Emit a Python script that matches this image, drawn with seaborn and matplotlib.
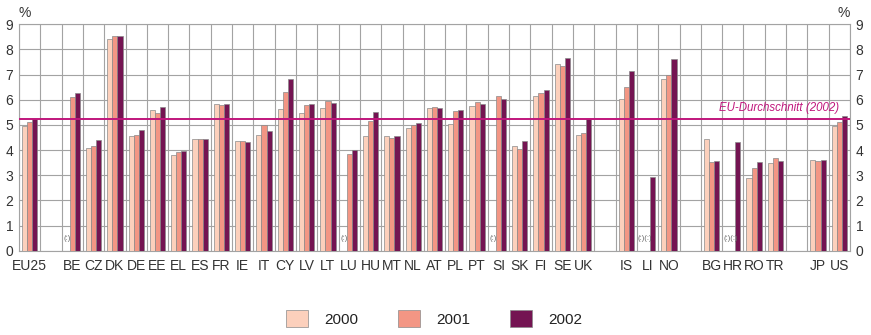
import numpy as np
import pandas as pd
import matplotlib
matplotlib.use("Agg")
import matplotlib.pyplot as plt
import seaborn as sns

# Country blocks (EU25 aggregate, member states, EFTA, candidates, others)
eu_total = ["EU25"]
members = ["BE", "CZ", "DK", "DE", "EE", "EL", "ES", "FR", "IE", "IT", "CY", "LV",
           "LT", "LU", "HU", "MT", "NL", "AT", "PL", "PT", "SI", "SK", "FI", "SE", "UK"]
efta = ["IS", "LI", "NO"]
candidates = ["BG", "HR", "RO", "TR"]
others = ["JP", "US"]

years = ["2000", "2001", "2002"]

# Values in % (None = not available)
v2000 = {
    "EU25": 4.96, "BE": None, "CZ": 4.07, "DK": 8.41, "DE": 4.56, "EE": 5.59, "EL": 3.79,
    "ES": 4.43, "FR": 5.83, "IE": 4.35, "IT": 4.59, "CY": 5.62, "LV": 5.46, "LT": 5.69,
    "LU": None, "HU": 4.56, "MT": 4.56, "NL": 4.89, "AT": 5.67, "PL": 5.03, "PT": 5.75,
    "SI": None, "SK": 4.15, "FI": 6.14, "SE": 7.42, "UK": 4.60,
    "IS": 6.02, "LI": None, "NO": 6.84,
    "BG": 4.43, "HR": None, "RO": 2.90, "TR": 3.47,
    "JP": 3.59, "US": 4.95,
}
v2001 = {
    "EU25": 5.10, "BE": 6.11, "CZ": 4.16, "DK": 8.53, "DE": 4.60, "EE": 5.49, "EL": 3.91,
    "ES": 4.43, "FR": 5.78, "IE": 4.35, "IT": 4.99, "CY": 6.31, "LV": 5.78, "LT": 5.94,
    "LU": 3.84, "HU": 5.17, "MT": 4.48, "NL": 4.99, "AT": 5.71, "PL": 5.57, "PT": 5.92,
    "SI": 6.14, "SK": 4.03, "FI": 6.26, "SE": 7.33, "UK": 4.69,
    "IS": 6.50, "LI": None, "NO": 7.00,
    "BG": 3.53, "HR": None, "RO": 3.28, "TR": 3.67,
    "JP": 3.57, "US": 5.10,
}
v2002 = {
    "EU25": 5.22, "BE": 6.27, "CZ": 4.40, "DK": 8.53, "DE": 4.79, "EE": 5.70, "EL": 3.98,
    "ES": 4.45, "FR": 5.82, "IE": 4.32, "IT": 4.75, "CY": 6.84, "LV": 5.82, "LT": 5.89,
    "LU": 4.00, "HU": 5.52, "MT": 4.55, "NL": 5.08, "AT": 5.67, "PL": 5.61, "PT": 5.83,
    "SI": 6.03, "SK": 4.35, "FI": 6.39, "SE": 7.67, "UK": 5.24,
    "IS": 7.13, "LI": 2.94, "NO": 7.63,
    "BG": 3.57, "HR": 4.32, "RO": 3.53, "TR": 3.55,
    "JP": 3.59, "US": 5.36,
}
eu_average_label = "EU-Durchschnitt (2002)"
eu_average = v2002["EU25"]

colors = ["#fcd0bc", "#f39684", "#741452"]
line_color = "#c0167c"
text_color = "#333333"
grid_color = "#a3a3a3"

# Category order with one empty slot between blocks
blocks = [eu_total, members, efta, candidates, others]
order = []
for i, blk in enumerate(blocks):
    if i > 0:
        order.append(" " * i)
    order.extend(blk)

rows = []
for yr, vals in zip(years, [v2000, v2001, v2002]):
    for c in order:
        v = vals.get(c)
        rows.append({"country": c, "year": yr, "value": np.nan if v is None else v})
df = pd.DataFrame(rows)

sns.set_theme(style="white")
plt.rcParams["font.family"] = ["Liberation Sans", "DejaVu Sans"]

fig = plt.figure(figsize=(8.71, 3.35), dpi=100)
ax = fig.add_axes([0.0218, 0.2517, 0.9541, 0.6758])

sns.barplot(data=df, x="country", y="value", hue="year", order=order,
            hue_order=years, palette=colors, saturation=1, width=0.72, gap=0,
            edgecolor="#8a8a8a", linewidth=0.5, ax=ax, legend=True, zorder=3)

n = len(order)
ax.set_xlim(-0.5, n - 0.5)
ax.set_ylim(0, 9)

# Grid: integer rows and category slot boundaries
ax.set_yticks(range(0, 10))
ax.set_xticks(np.arange(-0.5, n, 1.0), minor=True)
ax.grid(axis="y", which="major", color=grid_color, linewidth=0.8, zorder=0)
ax.grid(axis="x", which="minor", color=grid_color, linewidth=0.8, zorder=0)
ax.grid(axis="x", which="major", visible=False)
ax.set_axisbelow(True)
for s in ax.spines.values():
    s.set_color(grid_color)
    s.set_linewidth(0.8)

ax.tick_params(axis="both", which="both", length=0, colors=text_color, labelsize=10)
ax.tick_params(axis="x", pad=6)
ax.tick_params(axis="y", pad=4, labelleft=True, labelright=True, left=False, right=False)
ax.set_xlabel("")
ax.set_ylabel("")
ax.set_xticks(range(n))
ax.set_xticklabels(order)

# Percent unit above both value axes
ax.text(0.0, 1.02, "%", transform=ax.transAxes, ha="left", va="bottom",
        fontsize=10, color=text_color)
ax.text(1.0, 1.02, "%", transform=ax.transAxes, ha="right", va="bottom",
        fontsize=10, color=text_color)

# EU average reference line
ax.axhline(eu_average, color=line_color, linewidth=1.4, zorder=4)
ax.text(n - 1.0, eu_average + 0.2, eu_average_label, ha="right", va="bottom",
        fontsize=8.3, style="italic", color=line_color, zorder=5)

# "(:)" markers for unavailable values, one marker per missing bar
offsets = [-0.24, 0.0, 0.24]
for xi, c in enumerate(order):
    if c.strip() == "":
        continue
    missing = [k for k, vals in enumerate([v2000, v2001, v2002]) if vals.get(c) is None]
    if not missing:
        continue
    xm = xi + np.mean([offsets[k] for k in missing])
    ax.text(xm, 0.35, "(:)" * len(missing), ha="center", va="bottom",
            fontsize=5.5, color="#666666", zorder=5)

# Legend below the plot
handles, labels = ax.get_legend_handles_labels()
ax.legend(handles, labels, loc="upper center", bbox_to_anchor=(0.5, -0.2),
          ncol=3, frameon=False, fontsize=11, handlelength=1.4, handleheight=1.4,
          columnspacing=2.6, handletextpad=1.1, labelcolor="#222222")

fig.savefig("out.png", dpi=100)
